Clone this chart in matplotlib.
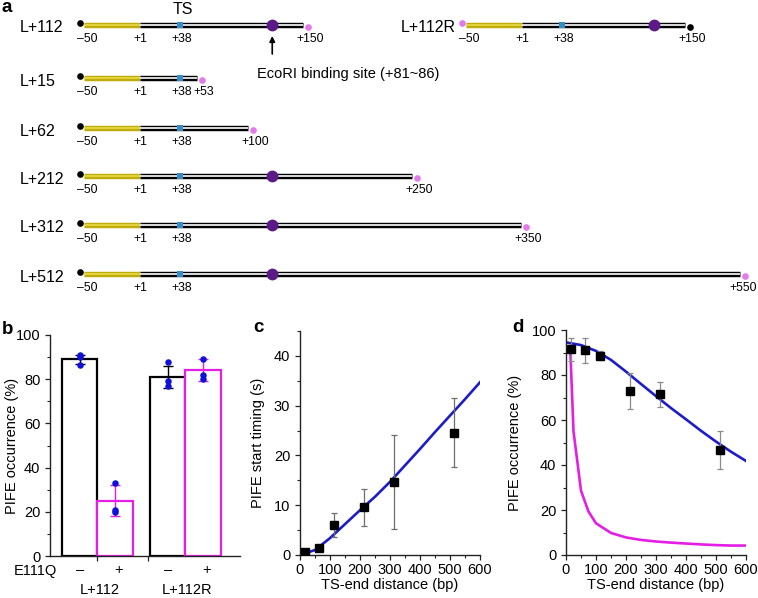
import matplotlib
matplotlib.use("Agg")
import matplotlib.pyplot as plt
import matplotlib.transforms as mtransforms
import numpy as np

plt.rcParams["font.family"] = ["Liberation Sans", "DejaVu Sans"]

# -------------------------------------------------
# Data
# -------------------------------------------------
# panel a: DNA constructs (end position in bp)
construct_names = ["L+112", "L+15", "L+62", "L+212", "L+312", "L+512"]
construct_ends = [150, 53, 100, 250, 350, 550]
construct_ecori = [True, False, False, True, True, True]
ts_site = 38

# panel b: PIFE occurrence with/without E111Q
b_groups = ["L+112", "L+112R"]
b_signs = ["–", "+", "–", "+"]
b_means = [89, 25, 81, 84]
b_err = [2, 7, 5, 5]
b_dots = [[91, 90, 86.5], [33, 21, 20], [88, 79, 77], [89, 82, 80]]

# panel c: PIFE start timing vs TS-end distance
ts_dist = [15, 62, 112, 212, 312, 512]
c_time = [0.6, 1.5, 6.1, 9.6, 14.7, 24.6]
c_time_err = [0.4, 0.3, 2.4, 3.75, 9.45, 6.85]
c_fit_x = [0, 50, 100, 150, 200, 250, 300, 350, 400, 450, 500, 550, 600]
c_fit_y = [0, 1.0, 3.4, 6.2, 9.0, 11.7, 14.7, 18.0, 21.3, 24.7, 28.0, 31.3, 34.7]

# panel d: PIFE occurrence vs TS-end distance
d_occ = [91.4, 91.0, 88.6, 73.0, 71.4, 46.6]
d_occ_err = [5, 5.6, 2, 8, 5.7, 8.4]
d_fit_x = [0, 50, 100, 150, 200, 250, 300, 350, 400, 450, 500, 550, 600]
d_fit_y = [94.5, 93.3, 90.7, 86.7, 81.5, 76.0, 70.6, 65.3, 60.3, 55.2, 50.4, 45.9, 41.8]
d_mag_x = [15, 25, 50, 75, 100, 150, 200, 250, 300, 350, 400, 450, 500, 550, 600]
d_mag_y = [89, 55, 28.6, 19.3, 14.1, 9.8, 7.8, 6.7, 6.0, 5.5, 5.1, 4.7, 4.4, 4.2, 4.2]

# -------------------------------------------------
# Figure
# -------------------------------------------------
W, H = 758, 598
fig = plt.figure(figsize=(W / 100, H / 100), dpi=100)

BLUE = "#1c1cc8"
MAG = "#e41ee4"
YEL_OUT = "#bfac06"
YEL_IN = "#e9dc4a"
TS_BLUE = "#2f8fc6"
PURPLE = "#5b1a86"
PINK = "#e37ae9"


def px_axes(left, top, right, bottom):
    return fig.add_axes([left / W, 1 - bottom / H, (right - left) / W, (bottom - top) / H])


# overlay in pixel coordinates for the schematic and panel letters
ax_a = fig.add_axes([0, 0, 1, 1])
ax_a.set_xlim(0, W)
ax_a.set_ylim(H, 0)
ax_a.axis("off")
ax_a.patch.set_alpha(0)


def bp2px(bp, shift=0):
    return 140 + (bp - 1) * 1.093 + shift


def strand(x0, x1, y, outer, inner):
    ax_a.plot([x0, x1], [y, y], color=outer, lw=3.9, solid_capstyle="butt", zorder=2)
    ax_a.plot([x0, x1], [y, y], color="white" if inner is None else inner, lw=1.2,
              solid_capstyle="butt", zorder=3)


def construct(y, end, ecori, shift=0, reverse=False):
    xs, x1, xe = bp2px(-50, shift), bp2px(1, shift), bp2px(end, shift)
    strand(xs, x1, y, YEL_OUT, YEL_IN)
    strand(x1, xe, y, "black", None)
    ax_a.plot(bp2px(ts_site, shift), y, marker="s", ms=5, color=TS_BLUE, mew=0, zorder=4)
    if ecori:
        ax_a.plot(bp2px(122, shift), y, marker="o", ms=8.5, color=PURPLE, mew=0, zorder=4)
    c_left, c_right = ("black", PINK) if not reverse else (PINK, "black")
    ax_a.plot(xs - 4, y - 2, marker="o", ms=4.8, color=c_left, mew=0, zorder=5)
    ax_a.plot(xe + 5, y + 2, marker="o", ms=4.8, color=c_right, mew=0, zorder=5)
    ly = y + 14
    fs = 8.8
    ax_a.text(xs + 3, ly, "–50", ha="center", va="center", fontsize=fs)
    ax_a.text(x1, ly, "+1", ha="center", va="center", fontsize=fs)
    ax_a.text(bp2px(ts_site, shift) + 1, ly, "+38", ha="center", va="center", fontsize=fs)
    ax_a.text(min(xe + 7, W - 15), ly, f"+{end}", ha="center", va="center", fontsize=fs)


row_y = [25, 78, 128, 176, 225, 274]
for name, end, eco, y in zip(construct_names, construct_ends, construct_ecori, row_y):
    ax_a.text(20, y + 3, name, ha="left", va="center", fontsize=11.5)
    construct(y, end, eco)

# reversed construct
ax_a.text(401, 27, "L+112R", ha="left", va="center", fontsize=11.5)
construct(25, 150, True, shift=382, reverse=True)

ax_a.text(bp2px(ts_site) + 2, 10, "TS", ha="center", va="center", fontsize=11.5)
ax_a.annotate("", xy=(bp2px(122), 36), xytext=(bp2px(122), 54),
              arrowprops=dict(arrowstyle="-|>", color="black", lw=1.2,
                              mutation_scale=8, shrinkA=0, shrinkB=0))
ax_a.text(257, 74, "EcoRI binding site (+81~86)", ha="left", va="center", fontsize=10.5)

for letter, (x, y) in zip("abcd", [(2, 7), (2, 330), (253, 327), (512, 327)]):
    ax_a.text(x, y, letter, ha="left", va="center", fontsize=13.5, fontweight="bold")


def style_axes(ax):
    for s in ["top", "right"]:
        ax.spines[s].set_visible(False)
    for s in ["left", "bottom"]:
        ax.spines[s].set_linewidth(1.0)
        ax.spines[s].set_color("#222222")
    ax.tick_params(which="major", length=3.5, width=0.9, labelsize=10.5, color="#222222")
    ax.tick_params(which="minor", length=2, width=0.8, color="#222222")
    ax.tick_params(axis="x", pad=2)
    ax.patch.set_alpha(0)


# -------------------------------------------------
# Panel b
# -------------------------------------------------
ax_b = px_axes(50, 335, 240, 556)
bar_w = 35.5
group_c = [97.5, 185.5]
bar_x = [group_c[0] - bar_w / 2, group_c[0] + bar_w / 2,
         group_c[1] - bar_w / 2, group_c[1] + bar_w / 2]
bar_col = ["black", MAG, "black", MAG]
for x, m, e, col, dots in zip(bar_x, b_means, b_err, bar_col, b_dots):
    ax_b.bar(x, m, width=bar_w, facecolor="white", edgecolor=col, lw=1.6, zorder=2)
    ax_b.errorbar(x, m, yerr=e, fmt="none", ecolor=col, elinewidth=1.0, capsize=3.5,
                  capthick=1.0, zorder=3)
    ax_b.scatter([x] * len(dots), dots, s=22, color="#1010d8", zorder=4, linewidths=0)
ax_b.set_xlim(50, 240)
ax_b.set_ylim(0, 100)
ax_b.set_yticks(np.arange(0, 101, 20))
ax_b.set_yticks(np.arange(10, 100, 20), minor=True)
ax_b.set_xticks([97.5, 148])
ax_b.set_xticklabels([])
ax_b.set_ylabel("PIFE occurrence (%)", fontsize=10.5)
ax_b.yaxis.set_label_coords((19 - 50) / 190, 0.5)
style_axes(ax_b)
trans_b = mtransforms.blended_transform_factory(ax_b.transData, ax_a.transData)
for x, s in zip(bar_x, b_signs):
    ax_b.text(x + (3 if s == "+" else 0), 570, s, transform=trans_b, ha="center",
              va="center", fontsize=10.5)
for x, g in zip(group_c, b_groups):
    ax_b.text(x + 2, 590, g, transform=trans_b, ha="center", va="center", fontsize=10.5)
ax_a.text(14, 571, "E111Q", ha="left", va="center", fontsize=10.5)

# -------------------------------------------------
# Panel c
# -------------------------------------------------
ax_c = px_axes(300, 331, 480, 555)
ax_c.plot(c_fit_x, c_fit_y, color=BLUE, lw=1.9, zorder=2)
ax_c.errorbar(ts_dist, c_time, yerr=c_time_err, fmt="s", color="black", ms=5.5,
              ecolor="#6e6e6e", elinewidth=0.9, capsize=2.5, capthick=0.9, zorder=3)
ax_c.set_xlim(0, 600)
ax_c.set_ylim(0, 45)
ax_c.set_xticks(np.arange(0, 601, 100))
ax_c.set_xticks(np.arange(50, 600, 100), minor=True)
ax_c.set_yticks(np.arange(0, 41, 10))
ax_c.set_yticks(np.arange(5, 46, 10), minor=True)
ax_c.set_xlabel("TS-end distance (bp)", fontsize=10.5)
ax_c.set_ylabel("PIFE start timing (s)", fontsize=10.5)
ax_c.xaxis.set_label_coords(0.5, (555 - 578) / 224)
ax_c.yaxis.set_label_coords((265 - 300) / 180, 0.5)
style_axes(ax_c)

# -------------------------------------------------
# Panel d
# -------------------------------------------------
ax_d = px_axes(566, 330, 746, 555)
ax_d.plot(d_fit_x, d_fit_y, color=BLUE, lw=1.9, zorder=2)
ax_d.plot(d_mag_x, d_mag_y, color=MAG, lw=1.9, zorder=2)
ax_d.errorbar(ts_dist, d_occ, yerr=d_occ_err, fmt="s", color="black", ms=5.5,
              ecolor="#8a8a8a", elinewidth=0.9, capsize=2.5, capthick=0.9, zorder=3)
ax_d.set_xlim(0, 600)
ax_d.set_ylim(0, 100)
ax_d.set_xticks(np.arange(0, 601, 100))
ax_d.set_xticks(np.arange(50, 600, 100), minor=True)
ax_d.set_yticks(np.arange(0, 101, 20))
ax_d.set_yticks(np.arange(10, 100, 20), minor=True)
ax_d.set_xlabel("TS-end distance (bp)", fontsize=10.5)
ax_d.set_ylabel("PIFE occurrence (%)", fontsize=10.5)
ax_d.xaxis.set_label_coords(0.5, (555 - 578) / 225)
ax_d.yaxis.set_label_coords((522 - 566) / 180, 0.5)
style_axes(ax_d)

fig.savefig("out.png", dpi=100)
